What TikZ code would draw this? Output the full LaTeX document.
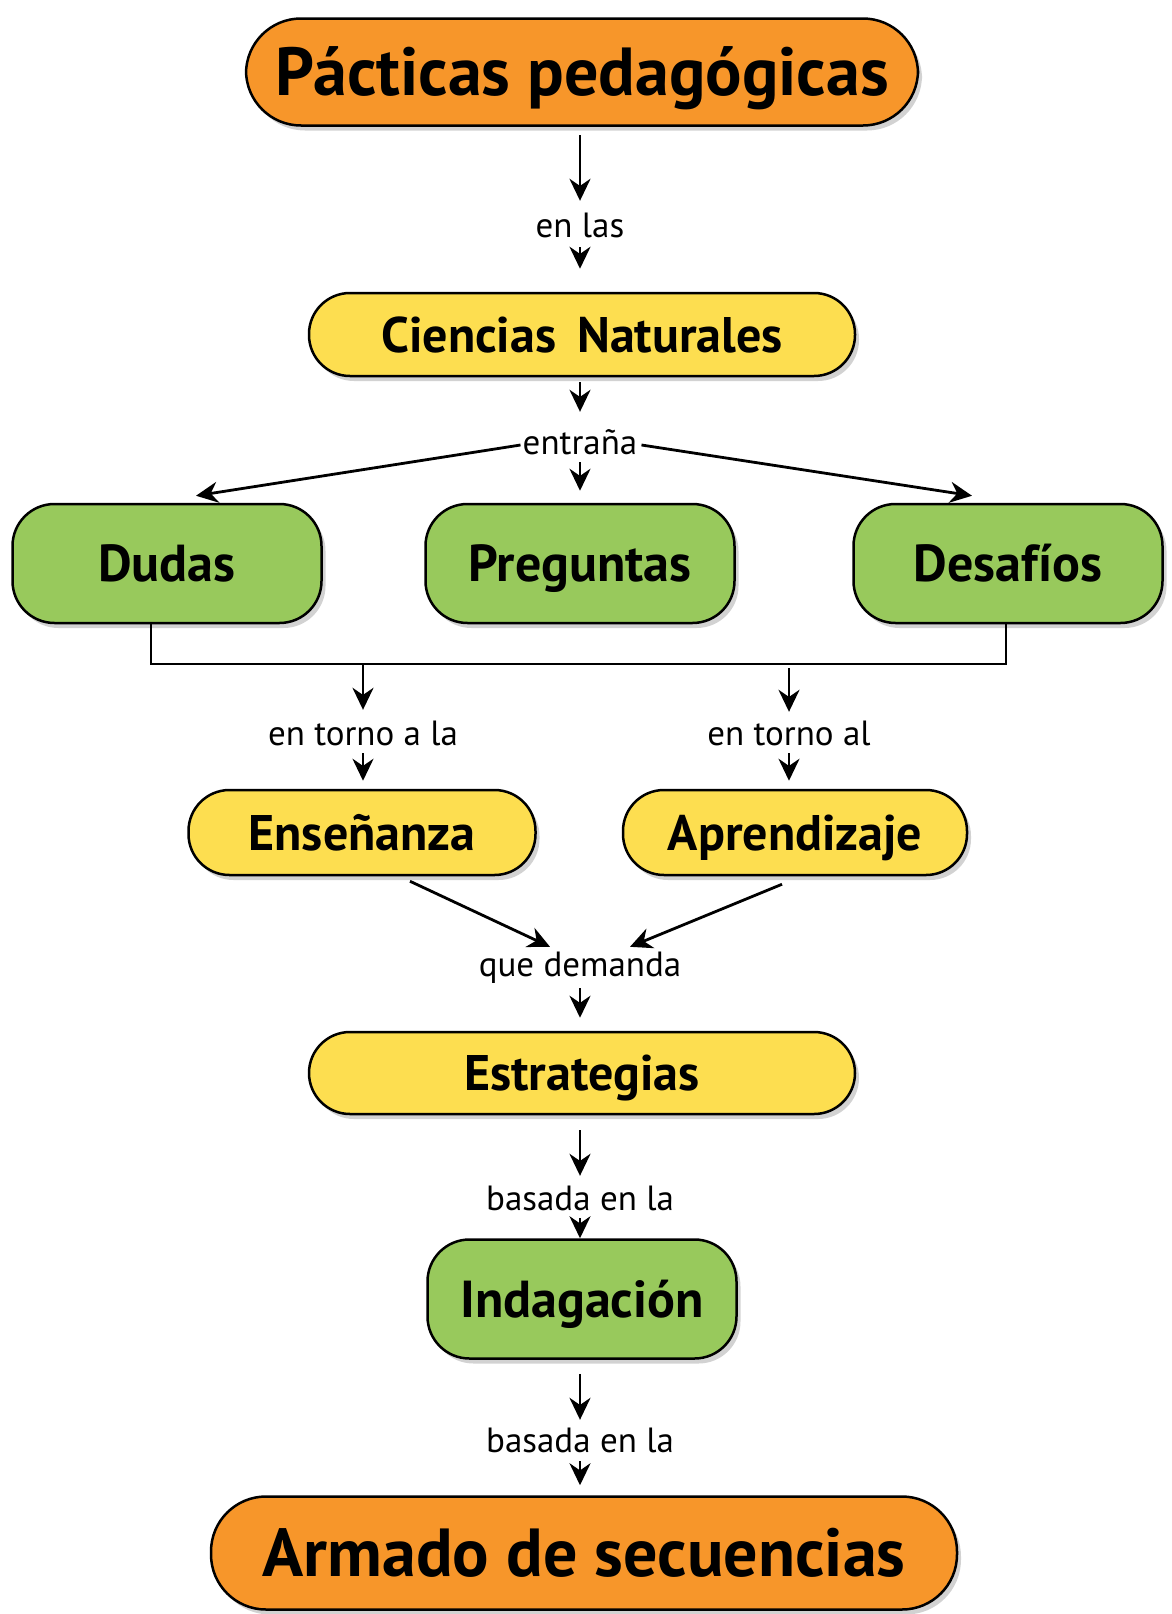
\documentclass[tikz,border=0pt]{standalone}
\usepackage{fontspec}
\setmainfont{PT Sans}
\usetikzlibrary{arrows.meta,shadows}
\definecolor{corange}{RGB}{247,150,42}
\definecolor{cyellow}{RGB}{253,222,80}
\definecolor{cgreen}{RGB}{152,201,92}
\tikzset{
  box/.style={draw=black,line width=2.5pt,inner sep=0pt,align=center,text depth=0pt,
    drop shadow={shadow xshift=4pt,shadow yshift=-5pt,opacity=.35}},
  bigbox/.style={box,fill=corange,rounded corners=55pt,text height=47pt,font=\fontsize{68}{72}\selectfont\bfseries},
  ybox/.style={box,fill=cyellow,rounded corners=41pt,text height=35pt,font=\fontsize{50}{54}\selectfont\bfseries},
  gbox/.style={box,fill=cgreen,rounded corners=42pt,minimum width=309pt,minimum height=119pt,text height=36pt,font=\fontsize{52}{56}\selectfont\bfseries},
  lbl/.style={inner sep=0pt,text height=26pt,text depth=8pt,font=\fontsize{35}{38}\selectfont},
  arr/.style={line width=2.8pt,-{Stealth[length=22pt,width=21pt]}},
  ln/.style={line width=2.5pt}
}
\begin{document}
\begin{tikzpicture}[x=1pt,y=-1pt]
\useasboundingbox[fill=white] (0,0) rectangle (1171,1614);
\node[bigbox,minimum width=672pt,minimum height=107pt] (top) at (582,72) {Pácticas pedagógicas};
\node[lbl] (enlas) at (580,228) {en las};
\node[ybox,minimum width=546pt,minimum height=83pt] (cien) at (582,334.5) {Ciencias\, Naturales};
\node[lbl] (entr) at (580,445) {entraña};
\node[gbox] (dudas) at (167,563.5) {Dudas};
\node[gbox] (preg) at (580,563.5) {Preguntas};
\node[gbox] (desa) at (1008,563.5) {Desafíos};
\coordinate (bl) at (151,664);
\coordinate (br) at (1006,664);
\node[lbl] (t1) at (363,736) {en torno a la};
\node[lbl] (t2) at (789,736) {en torno al};
\node[ybox,minimum width=347pt,minimum height=85pt] (ens) at (362,832.5) {Enseñanza};
\node[ybox,minimum width=344pt,minimum height=85pt] (apr) at (795,832.5) {Aprendizaje};
\node[lbl] (dem) at (580,967) {que demanda};
\node[ybox,minimum width=546pt,minimum height=82pt] (estr) at (582,1073) {Estrategias};
\node[lbl] (bas1) at (580,1201) {basada en la};
\node[gbox] (indag) at (582,1299) {Indagación};
\node[lbl] (bas2) at (580,1443) {basada en la};
\node[bigbox,minimum width=746pt,minimum height=113pt] (arm) at (584,1553) {Armado de secuencias};

\draw[arr,shorten <=8.5pt,shorten >=10pt] (top.south -| enlas) -- (enlas.north);
\draw[arr,shorten <=2pt,shorten >=23pt] (enlas.south) -- (enlas.south |- cien.north);
\draw[arr,shorten <=5pt,shorten >=16pt] (cien.south -| entr) -- (entr.north);
\draw[arr,shorten >=12pt] (entr.south) -- (preg.north);
\draw[arr] ([xshift=-2pt]entr.west) -- ([xshift=29pt,yshift=7pt]dudas.north);
\draw[arr] ([xshift=4pt]entr.east) -- ([xshift=-36pt,yshift=7pt]desa.north);
\draw[ln] ([xshift=-16pt]dudas.south) -- (bl) -- (br) -- ([xshift=-2pt]desa.south);
\draw[arr,shorten >=9pt] (t1 |- bl) -- (t1.north);
\draw[arr,shorten <=4pt,shorten >=7pt] (t2 |- bl) -- (t2.north);
\draw[arr,shorten >=8pt] (t1.south) -- (t1.south |- ens.north);
\draw[arr,shorten >=8pt] (t2.south) -- (t2.south |- apr.north);
\draw[arr] ([xshift=48pt,yshift=-5pt]ens.south) -- ([xshift=-30pt,yshift=3pt]dem.north);
\draw[arr] ([xshift=-13pt,yshift=-8pt]apr.south) -- ([xshift=50pt,yshift=3pt]dem.north);
\draw[arr,shorten <=4pt,shorten >=13pt] (dem.south) -- (dem.south |- estr.north);
\draw[arr,shorten <=15pt,shorten >=8pt] (estr.south -| bas1) -- (bas1.north);
\draw[arr] (bas1.south) -- (bas1.south |- indag.north);
\draw[arr,shorten <=14pt,shorten >=6pt] (indag.south -| bas2) -- (bas2.north);
\draw[arr,shorten <=1pt,shorten >=10pt] (bas2.south) -- (bas2.south |- arm.north);
\end{tikzpicture}
\end{document}
